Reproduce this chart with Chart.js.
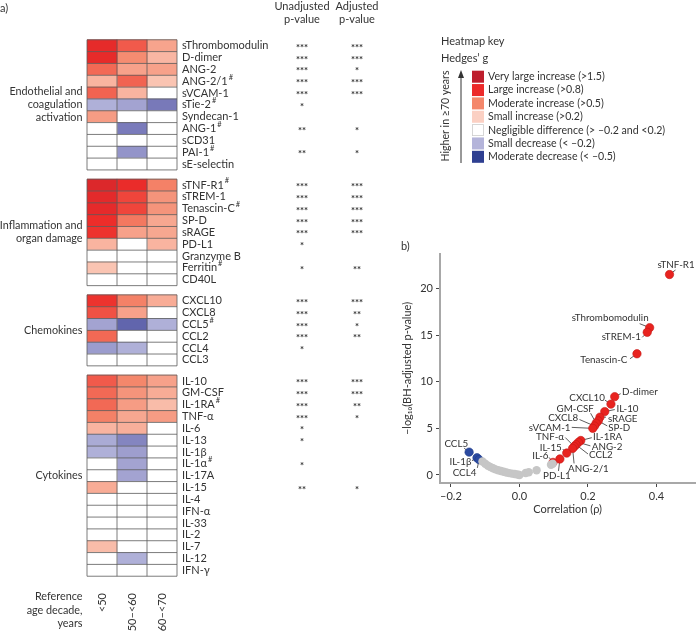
<!DOCTYPE html>
<html>
<head>
<meta charset="utf-8">
<script src="https://cdn.jsdelivr.net/npm/chart.js@4.4.1/dist/chart.umd.min.js"></script>
<style>
  body { margin: 0; background: #fff; width: 700px; height: 631px; overflow: hidden; position: relative; }
  #heat { position: absolute; left: 0; top: 0; }
  #volcano { position: absolute; left: 390px; top: 240px; }
</style>
</head>
<body>
<canvas id="heat" width="700" height="631"></canvas>
<canvas id="volcano" width="310" height="280"></canvas>
<script>
// ---- a) heatmap data ----
const groupNames = [['Endothelial and', 'coagulation', 'activation'], ['Inflammation and', 'organ damage'], ['Chemokines'], ['Cytokines']];
const endothelial = ['sThrombomodulin', 'D-dimer', 'ANG-2', 'ANG-2/1#', 'sVCAM-1', 'sTie-2#', 'Syndecan-1', 'ANG-1#', 'sCD31', 'PAI-1#', 'sE-selectin'];
const inflammation = ['sTNF-R1#', 'sTREM-1', 'Tenascin-C#', 'SP-D', 'sRAGE', 'PD-L1', 'Granzyme B', 'Ferritin#', 'CD40L'];
const chemokines = ['CXCL10', 'CXCL8', 'CCL5#', 'CCL2', 'CCL4', 'CCL3'];
const cytokines = ['IL-10', 'GM-CSF', 'IL-1RA#', 'TNF-α', 'IL-6', 'IL-13', 'IL-1β', 'IL-1α#', 'IL-17A', 'IL-15', 'IL-4', 'IFN-α', 'IL-33', 'IL-2', 'IL-7', 'IL-12', 'IFN-γ'];
const ageDecades = ['<50', '≥50–<60', '≥60–<70'];

// Hedges' g of each decade against >=70 years (same order as the marker lists)
const gUnder50 = [0.9, 0.9, 0.6, 0.33, 0.62, -0.25, 0.42, 0, 0, 0, 0,
                  1.05, 0.95, 0.92, 0.8, 0.78, 0.33, 0, 0.27, 0,
                  0.78, 0.68, -0.3, 0.6, -0.33, 0,
                  0.65, 0.6, 0.6, 0.52, 0.33, -0.27, -0.25, 0, 0, 0.36, 0, 0, 0, 0, 0.3, 0, 0];
const g50to60 = [0.65, 0.48, 0.4, 0.62, 0.33, -0.3, 0, -0.46, 0, -0.36, 0,
                 0.85, 0.72, 0.72, 0.55, 0.4, 0, 0, 0, 0,
                 0.52, 0.4, -0.57, 0, -0.25, 0,
                 0.5, 0.45, 0.42, 0.38, 0.35, -0.42, -0.32, -0.3, -0.3, 0, 0, 0, 0, 0, 0, -0.25, 0];
const g60to70 = [0.39, 0.32, 0.4, 0.27, 0, -0.47, 0, 0, 0, 0, 0,
                 0.52, 0.45, 0.45, 0.38, 0.38, 0.33, 0, 0, 0,
                 0.36, 0, -0.25, 0, 0, 0,
                 0.4, 0.36, 0.3, 0.42, 0, 0, 0, 0, 0, 0, 0, 0, 0, 0, 0, 0, 0];

const pUnadjusted = ['***', '***', '***', '***', '***', '*', '', '**', '', '**', '',
                     '***', '***', '***', '***', '***', '*', '', '*', '',
                     '***', '***', '***', '***', '*', '',
                     '***', '***', '***', '***', '*', '*', '', '*', '', '**', '', '', '', '', '', '', ''];
const pAdjusted = ['***', '***', '*', '***', '***', '', '', '*', '', '*', '',
                   '***', '***', '***', '***', '***', '', '', '**', '',
                   '***', '**', '*', '**', '', '',
                   '***', '***', '**', '*', '', '', '', '', '', '*', '', '', '', '', '', '', ''];

const keyLabels = ['Very large increase (>1.5)', 'Large increase (>0.8)', 'Moderate increase (>0.5)', 'Small increase (>0.2)',
                   'Negligible difference (> \u20130.2 and <0.2)', 'Small decrease (< \u20130.2)', 'Moderate decrease (< \u20130.5)'];
const keyColors = ['#be1e2d', '#ec2a2a', '#f4876b', '#fbd0c3', '#ffffff', '#b4b4da', '#2e3f91'];

// ---- b) correlation plot data ----
const volcanoNames = ['sTNF-R1', 'sThrombomodulin', 'sTREM-1', 'Tenascin-C', 'D-dimer', 'CXCL10', 'IL-10', 'sRAGE', 'SP-D', 'GM-CSF', 'CXCL8', 'sVCAM-1',
                      'IL-1RA', 'ANG-2', 'CCL2', 'TNF-α', 'ANG-2/1', 'IL-15', 'IL-6', 'PD-L1', 'CCL5', 'IL-1β', 'CCL4'];
const volcanoRho = [0.438, 0.380, 0.373, 0.343, 0.278, 0.267, 0.249, 0.235, 0.230, 0.224, 0.219, 0.214,
                    0.179, 0.172, 0.165, 0.160, 0.155, 0.138, 0.098, 0.118, -0.147, -0.124, -0.118];
const volcanoLogP = [21.5, 15.8, 15.3, 13.0, 8.4, 7.6, 6.8, 6.2, 5.8, 5.55, 5.25, 5.0,
                     3.7, 3.5, 3.25, 3.05, 2.85, 2.35, 1.35, 1.72, 2.45, 1.85, 1.65];
const otherRho = [-0.108, -0.100, -0.092, -0.085, -0.077, -0.070, -0.062, -0.054, -0.046, -0.038,
                  -0.030, -0.022, -0.014, -0.006, 0.0, 0.018, 0.027, 0.050, 0.092, 0.097];
const otherLogP = [1.45, 1.2, 1.0, 0.85, 0.72, 0.6, 0.5, 0.42, 0.34, 0.27,
                   0.2, 0.15, 0.1, 0.05, 0.0, 0.22, 0.3, 0.5, 1.1, 1.2];
const xTicks = [-0.2, 0, 0.2, 0.4];
const yTicks = [0, 5, 10, 15, 20];

const FONT = 'Lato, "Noto Sans", sans-serif';
const INK = '#333';

// rows with a small gap between marker groups
const GAP = 0.78;
const rowPos = [], rowNames = [], groupSpan = [];
let pos = 0;
[endothelial, inflammation, chemokines, cytokines].forEach(list => {
  const start = pos;
  list.forEach(name => { rowPos.push(pos); rowNames.push(name); pos += 1; });
  groupSpan.push([start, pos - 1]);
  pos += GAP;
});
const lastPos = rowPos[rowPos.length - 1];

const posStops = [[0.2, [252, 214, 200]], [0.5, [244, 135, 107]], [0.8, [237, 45, 42]], [1.5, [190, 30, 45]]];
const negStops = [[0.2, [188, 188, 223]], [0.5, [112, 113, 181]], [0.8, [46, 62, 145]]];
function hedgesColor(g) {
  if (Math.abs(g) < 0.2) return '#ffffff';
  const stops = g > 0 ? posStops : negStops;
  const a = Math.abs(g);
  let c = stops[stops.length - 1][1];
  for (let i = 0; i < stops.length - 1; i++) {
    if (a <= stops[i + 1][0]) {
      const t = (a - stops[i][0]) / (stops[i + 1][0] - stops[i][0]);
      c = stops[i][1].map((v, k) => Math.round(v + (stops[i + 1][1][k] - v) * t));
      break;
    }
  }
  return 'rgb(' + c.join(',') + ')';
}

function drawName(ctx, name, x, y, size) {
  const sup = name.endsWith('#');
  const base = sup ? name.slice(0, -1) : name;
  ctx.font = size + 'px ' + FONT;
  ctx.fillText(base, x, y);
  if (sup) {
    const w = ctx.measureText(base).width;
    ctx.font = '7.5px ' + FONT;
    ctx.fillText('#', x + w + 1, y - 4);
  }
}

const heatText = {
  id: 'heatText',
  afterDatasetsDraw(chart) {
    const ctx = chart.ctx, xs = chart.scales.x, ys = chart.scales.y;
    ctx.save();
    // cell grid
    ctx.strokeStyle = '#5a5a5a';
    ctx.lineWidth = 0.8;
    groupSpan.forEach(([a, b]) => {
      const top = ys.getPixelForValue(a - 0.5), bot = ys.getPixelForValue(b + 0.5);
      ctx.beginPath();
      for (let v = a - 0.5; v <= b + 0.51; v += 1) {
        const py = ys.getPixelForValue(v);
        ctx.moveTo(xs.getPixelForValue(0), py);
        ctx.lineTo(xs.getPixelForValue(3), py);
      }
      for (let c = 0; c <= 3; c++) {
        const px = xs.getPixelForValue(c);
        ctx.moveTo(px, top);
        ctx.lineTo(px, bot);
      }
      ctx.stroke();
    });

    ctx.fillStyle = INK;
    ctx.textBaseline = 'middle';
    // marker names and significance stars
    const nameX = xs.getPixelForValue(3) + 5;
    rowPos.forEach((v, i) => {
      const py = ys.getPixelForValue(v);
      ctx.textAlign = 'left';
      drawName(ctx, rowNames[i], nameX, py, 11);
      ctx.textAlign = 'center';
      ctx.font = 'bold 9.5px ' + FONT;
      ctx.fillText(pUnadjusted[i], 302, py + 2);
      ctx.fillText(pAdjusted[i], 357, py + 2);
    });
    ctx.font = '11px ' + FONT;
    ctx.textAlign = 'center';
    ctx.fillText('Unadjusted', 302, 6);
    ctx.fillText('p-value', 302, 19);
    ctx.fillText('Adjusted', 357, 6);
    ctx.fillText('p-value', 357, 19);

    // group labels
    ctx.textAlign = 'right';
    ctx.font = '10.8px ' + FONT;
    groupSpan.forEach(([a, b], gi) => {
      const mid = (ys.getPixelForValue(a) + ys.getPixelForValue(b)) / 2;
      const lines = groupNames[gi];
      lines.forEach((t, k) => ctx.fillText(t, 82.5, mid + (k - (lines.length - 1) / 2) * 13));
    });
    ['Reference', 'age decade,', 'years'].forEach((t, k) => ctx.fillText(t, 82.5, 597 + k * 13.5));

    // decade labels (rotated)
    ctx.font = '11px ' + FONT;
    ageDecades.forEach((lab, c) => {
      ctx.save();
      ctx.translate(xs.getPixelForValue(c + 0.5), 593);
      ctx.rotate(-Math.PI / 2);
      ctx.textAlign = 'right';
      ctx.fillText(lab, 0, 0);
      ctx.restore();
    });

    ctx.textAlign = 'left';
    ctx.fillText('a)', 0, 8);
    ctx.fillText('b)', 401, 246);

    // heatmap key
    ctx.fillText('Heatmap key', 441, 41);
    ctx.fillText('Hedges\u2019 g', 441, 58);
    ctx.font = '10.6px ' + FONT;
    keyLabels.forEach((t, k) => {
      const cy = 76.7 + k * 13.35;
      ctx.fillStyle = keyColors[k];
      ctx.fillRect(472, cy - 6, 12, 12);
      if (keyColors[k] === '#ffffff') {
        ctx.strokeStyle = '#cccccc';
        ctx.lineWidth = 0.8;
        ctx.strokeRect(472.5, cy - 5.5, 11, 11);
      }
      ctx.fillStyle = INK;
      ctx.fillText(t, 488, cy);
    });
    ctx.strokeStyle = INK;
    ctx.lineWidth = 1;
    ctx.beginPath();
    ctx.moveTo(461, 163);
    ctx.lineTo(461, 76);
    ctx.stroke();
    ctx.beginPath();
    ctx.moveTo(461, 70);
    ctx.lineTo(458, 78);
    ctx.lineTo(464, 78);
    ctx.closePath();
    ctx.fill();
    ctx.save();
    ctx.translate(446, 116);
    ctx.rotate(-Math.PI / 2);
    ctx.textAlign = 'center';
    ctx.font = '10.6px ' + FONT;
    ctx.fillText('Higher in \u226570 years', 0, 0);
    ctx.restore();
    ctx.restore();
  }
};

const columns = [gUnder50, g50to60, g60to70];
new Chart(document.getElementById('heat'), {
  type: 'bar',
  data: {
    datasets: columns.map((vals, c) => ({
      label: ageDecades[c],
      data: rowPos.map(v => ({ y: v, x: [c, c + 1] })),
      backgroundColor: vals.map(hedgesColor),
      borderWidth: 0,
      grouped: false,
      barPercentage: 1,
      categoryPercentage: 1
    }))
  },
  options: {
    indexAxis: 'y',
    responsive: false,
    animation: false,
    layout: { padding: { left: 87, right: 523, top: 27, bottom: 42 } },
    scales: {
      x: { type: 'linear', min: 0, max: 3, display: false },
      y: {
        type: 'linear', reverse: true, min: -0.5, max: lastPos + 0.5, display: false,
        afterBuildTicks: s => { s.ticks = rowPos.map(v => ({ value: v })); }
      }
    },
    plugins: { legend: { display: false }, tooltip: { enabled: false } }
  },
  plugins: [heatText]
});

// ---- b) correlation vs -log10 p ----
// [text dx, text dy, align, line dx, line dy] relative to the point
const labelPlace = {
  'sTNF-R1': [6.5, -10, 'center', 6, -4.5],
  'sThrombomodulin': [-1, -9.4, 'right', -10, -4],
  'sTREM-1': [-6.4, 5, 'right', -5, 5],
  'Tenascin-C': [-9.6, 6.3, 'right', -7, 5],
  'D-dimer': [7.3, -4.4, 'left', 6, -3],
  'CXCL10': [-6, -6.7, 'right', -6, -4],
  'IL-10': [11.7, -2.3, 'left', 10, -2],
  'sRAGE': [8, 1.7, 'left', 6, 0],
  'SP-D': [10, 7, 'left', 9, 5],
  'GM-CSF': [-2.3, -14.3, 'right', -5.6, -10],
  'CXCL8': [-16.3, -7.7, 'right', -15, -6.5],
  'sVCAM-1': [-22.3, -0.3, 'right', -21, -1],
  'IL-1RA': [12.2, -3.2, 'left', 11, -2.8],
  'ANG-2': [13.4, 4.3, 'left', 12, 3.5],
  'CCL2': [13, 10.6, 'left', 12, 9.3],
  'TNF-α': [-10.2, -9.3, 'right', -9, -9],
  'ANG-2/1': [-4.5, 20, 'left', 1.5, 15],
  'IL-15': [-5, -5.4, 'right', -4, -4],
  'IL-6': [-4.5, -6.7, 'right', -4, -5],
  'PD-L1': [-3, 17, 'center', -1.4, 12],
  'CCL5': [-1, -8.3, 'right', -5, -4],
  'IL-1β': [-5.6, 4.3, 'right', -5, 3],
  'CCL4': [-2.7, 13.3, 'right', -1.7, 8.3]
};

const volcanoLabels = {
  id: 'volcanoLabels',
  beforeDatasetsDraw(chart) {
    const ctx = chart.ctx, xs = chart.scales.x, ys = chart.scales.y;
    ctx.save();
    ctx.strokeStyle = INK;
    ctx.lineWidth = 0.8;
    volcanoNames.forEach((n, i) => {
      const px = xs.getPixelForValue(volcanoRho[i]), py = ys.getPixelForValue(volcanoLogP[i]);
      const p = labelPlace[n];
      ctx.beginPath();
      ctx.moveTo(px + p[3], py + p[4]);
      ctx.lineTo(px, py);
      ctx.stroke();
    });
    ctx.restore();
  },
  afterDatasetsDraw(chart) {
    const ctx = chart.ctx, xs = chart.scales.x, ys = chart.scales.y;
    ctx.save();
    ctx.fillStyle = INK;
    ctx.font = '9.8px ' + FONT;
    ctx.textBaseline = 'middle';
    volcanoNames.forEach((n, i) => {
      const px = xs.getPixelForValue(volcanoRho[i]), py = ys.getPixelForValue(volcanoLogP[i]);
      const p = labelPlace[n];
      ctx.textAlign = p[2];
      ctx.fillText(n, px + p[0], py + p[1]);
    });
    ctx.restore();
  }
};

const pts = (xsArr, ysArr, keep) => xsArr.map((x, i) => ({ x: x, y: ysArr[i] })).filter(keep);
const fmtTick = v => (v < 0 ? '\u2013' : '') + Math.abs(v).toFixed(1);

new Chart(document.getElementById('volcano'), {
  type: 'scatter',
  data: {
    datasets: [
      { data: pts(otherRho, otherLogP, () => true), backgroundColor: '#c6c6c6', pointRadius: 4.2, borderWidth: 0 },
      { data: pts(volcanoRho, volcanoLogP, d => d.x < 0), backgroundColor: '#2b4aa0', borderColor: '#1f3a88', pointRadius: 4.2, borderWidth: 0.6 },
      { data: pts(volcanoRho, volcanoLogP, d => d.x > 0), backgroundColor: '#e8231f', borderColor: '#c41a17', pointRadius: 4.2, borderWidth: 0.6 }
    ]
  },
  options: {
    responsive: false,
    animation: false,
    layout: { padding: { top: 14, right: 3, left: 0, bottom: 0 } },
    scales: {
      x: {
        type: 'linear', min: -0.232, max: 0.513,
        afterBuildTicks: s => { s.ticks = xTicks.map(v => ({ value: v })); },
        afterFit: s => { s.height = 37; },
        ticks: { callback: fmtTick, color: INK, font: { family: FONT, size: 11 }, padding: 3 },
        grid: { drawOnChartArea: false, tickLength: 4, tickColor: '#444' },
        border: { color: '#a8a8a8', width: 2 },
        title: { display: true, text: 'Correlation (\u03c1)', color: INK, font: { family: FONT, size: 11 }, padding: { top: 0, bottom: 3.5 } }
      },
      y: {
        type: 'linear', min: -0.86, max: 23.7,
        afterBuildTicks: s => { s.ticks = yTicks.map(v => ({ value: v })); },
        afterFit: s => { s.width = 50; },
        ticks: { color: INK, font: { family: FONT, size: 11 }, padding: 3 },
        grid: { drawOnChartArea: false, tickLength: 4, tickColor: '#444' },
        border: { color: '#a8a8a8', width: 2 },
        title: { display: true, text: '\u2013log\u2081\u2080(BH-adjusted p-value)', color: INK, font: { family: FONT, size: 11 }, padding: { top: 11, bottom: 0 } }
      }
    },
    plugins: { legend: { display: false }, tooltip: { enabled: false } }
  },
  plugins: [volcanoLabels]
});
</script>
</body>
</html>
